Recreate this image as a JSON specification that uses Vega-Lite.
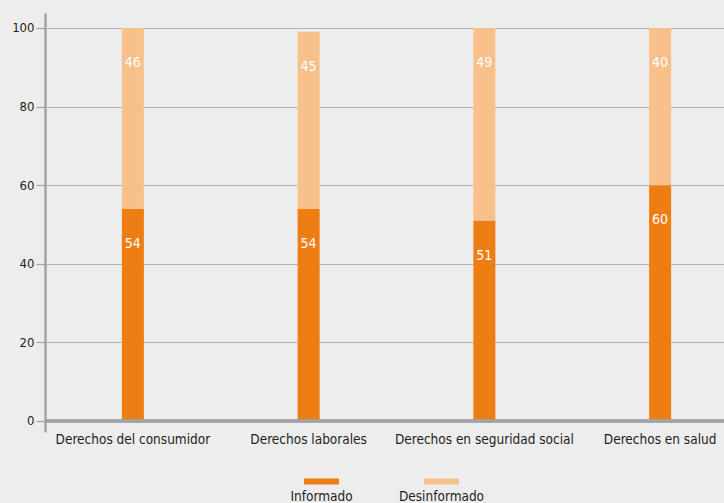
{
  "$schema": "https://vega.github.io/schema/vega-lite/v6.json",
  "width": 703,
  "height": 419,
  "padding": {"left": 11, "top": 13, "right": 0, "bottom": 0},
  "background": "#ecedec",
  "config": {
    "view": {"stroke": null},
    "font": "Liberation Sans Narrow, DejaVu Sans Condensed, sans-serif"
  },
  "data": {
    "values": [
      {"cat": "Derechos del consumidor", "status": "Informado", "ord": 1, "value": 54},
      {"cat": "Derechos del consumidor", "status": "Desinformado", "ord": 2, "value": 46},
      {"cat": "Derechos laborales", "status": "Informado", "ord": 1, "value": 54},
      {"cat": "Derechos laborales", "status": "Desinformado", "ord": 2, "value": 45},
      {"cat": "Derechos en seguridad social", "status": "Informado", "ord": 1, "value": 51},
      {"cat": "Derechos en seguridad social", "status": "Desinformado", "ord": 2, "value": 49},
      {"cat": "Derechos en salud", "status": "Informado", "ord": 1, "value": 60},
      {"cat": "Derechos en salud", "status": "Desinformado", "ord": 2, "value": 40}
    ]
  },
  "encoding": {
    "x": {
      "field": "cat",
      "type": "nominal",
      "sort": null,
      "axis": {
        "title": null,
        "labelAngle": 0,
        "domain": false,
        "ticks": false,
        "labelPadding": 0,
        "labelLimit": 0,
        "labelFontSize": 13.5,
        "labelColor": "#1e1e1e"
      }
    }
  },
  "layer": [
    {
      "mark": {"type": "bar", "width": 22},
      "encoding": {
        "y": {
          "field": "value",
          "type": "quantitative",
          "stack": "zero",
          "scale": {"domain": [-2.8, 103.8], "nice": false, "zero": false},
          "axis": {
            "title": null,
            "values": [0, 20, 40, 60, 80, 100],
            "grid": true,
            "gridColor": "#b2b2b2",
            "gridWidth": 1,
            "domainColor": "#a3a3a3",
            "domainWidth": 2.5,
            "tickColor": "#a3a3a3",
            "tickSize": 9,
            "tickWidth": 1.2,
            "labelPadding": 2,
            "labelFontSize": 13,
            "labelColor": "#1e1e1e"
          }
        },
        "order": {"field": "ord", "type": "quantitative"},
        "color": {
          "field": "status",
          "type": "nominal",
          "scale": {"domain": ["Informado", "Desinformado"], "range": ["#ee7d14", "#f8c08a"]},
          "legend": {
            "orient": "none",
            "legendX": 259,
            "legendY": 451,
            "direction": "horizontal",
            "title": null,
            "symbolType": "M-1,-0.17H1V0.17H-1Z",
            "symbolSize": 1225,
            "symbolStrokeWidth": 0,
            "symbolOpacity": 1,
            "labelAlign": "center",
            "labelOffset": -17.5,
            "labelFontSize": 13.5,
            "labelColor": "#1e1e1e",
            "columnPadding": 45,
            "encoding": {"labels": {"dy": {"value": 15}}}
          }
        }
      }
    },
    {
      "mark": {"type": "rule", "stroke": "#a3a3a3", "strokeWidth": 2.5},
      "encoding": {"y": {"datum": 0}, "x": null}
    },
    {
      "mark": {"type": "text", "color": "white", "fontSize": 14, "dy": 35, "baseline": "middle"},
      "encoding": {
        "y": {"field": "value", "type": "quantitative", "stack": "zero"},
        "order": {"field": "ord", "type": "quantitative"},
        "detail": {"field": "status"},
        "text": {"field": "value", "type": "quantitative"}
      }
    }
  ]
}
